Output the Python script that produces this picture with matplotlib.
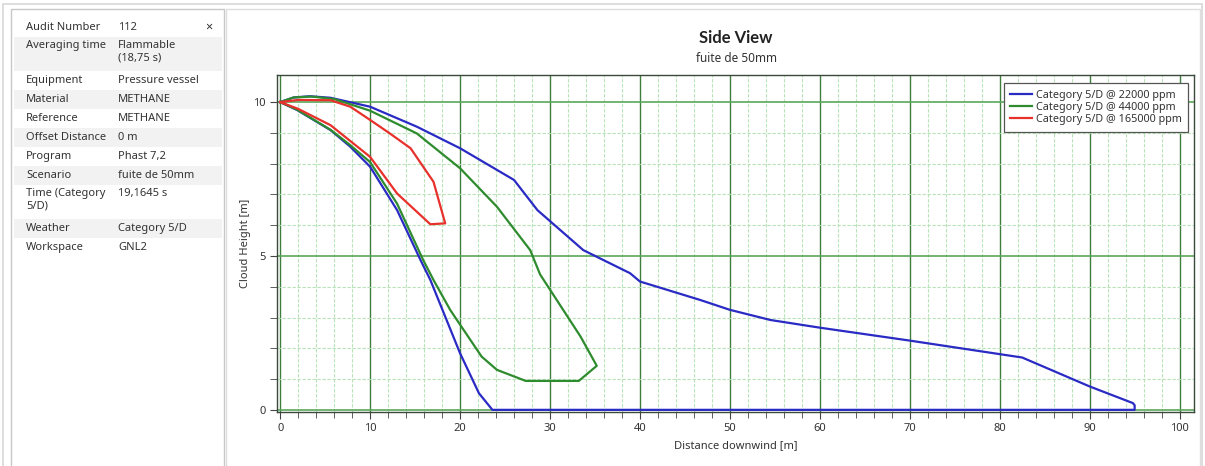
"""Side View dispersion plot (Phast style) with the audit info panel on the left."""
import numpy as np
import matplotlib
matplotlib.use("Agg")
import matplotlib.pyplot as plt
from matplotlib.patches import Rectangle
from matplotlib.ticker import MultipleLocator

plt.rcParams["font.family"] = ["Noto Sans", "DejaVu Sans"]

# ---- data ----
blue_x = [0, 1.5, 3.3, 5.6, 10, 15.2, 20, 26, 28.6, 33.7, 38.9, 40, 46.7, 50, 54.5, 60, 70, 80, 82.5,
          90, 94.8, 95, 95, 23.6, 22.1, 20, 16.7, 15.6, 13, 10, 7.8, 5.6, 1.9, 0]
blue_y = [10, 10.15, 10.19, 10.14, 9.85, 9.2, 8.5, 7.47, 6.49, 5.19, 4.44, 4.17, 3.57, 3.25, 2.92, 2.67, 2.25, 1.81, 1.70,
          0.76, 0.22, 0.15, 0, 0, 0.54, 1.84, 4.22, 4.87, 6.49, 7.9, 8.55, 9.09, 9.74, 10]
green_x = [0, 1.5, 3.5, 6, 10, 15.2, 20, 24.1, 27.8, 28.9, 33.4, 35.2, 33.2, 27.3, 24.1, 22.4, 20, 18.9,
           17.05, 15.9, 13, 10, 7.8, 5.6, 1.9, 0]
green_y = [10, 10.15, 10.18, 10.1, 9.72, 8.98, 7.85, 6.6, 5.19, 4.4, 2.38, 1.43, 0.94, 0.94, 1.3, 1.73, 2.77, 3.25,
           4.22, 4.87, 6.7, 8.05, 8.6, 9.1, 9.75, 10]
red_x = [0, 2, 5.6, 7.8, 10, 12.2, 14.5, 17.05, 18.35, 16.7, 13, 10, 5.6, 2, 0]
red_y = [10, 10.07, 10.06, 9.85, 9.42, 8.98, 8.5, 7.41, 6.06, 6.03, 7.03, 8.22, 9.25, 9.78, 10]
series_labels = ["Category 5/D @ 22000 ppm", "Category 5/D @ 44000 ppm", "Category 5/D @ 165000 ppm"]

info_keys = ["Audit Number", "Averaging time", "Equipment", "Material", "Reference", "Offset Distance",
             "Program", "Scenario", "Time (Category\n5/D)", "Weather", "Workspace"]
info_vals = ["112", "Flammable\n(18,75 s)", "Pressure vessel", "METHANE", "METHANE", "0 m",
             "Phast 7,2", "fuite de 50mm", "19,1645 s", "Category 5/D", "GNL2"]

BLUE, GREEN, RED = "#2a2ac4", "#2e8b2e", "#e8302c"
W, H = 1205, 466

fig = plt.figure(figsize=(W / 100, H / 100), dpi=100)

# ---- background panels (pixel coordinates) ----
bg = fig.add_axes([0, 0, 1, 1], zorder=0)
bg.set_xlim(0, W); bg.set_ylim(H, 0); bg.axis("off")
bg.add_patch(Rectangle((3, 4), 1199, 470, fc="white", ec="#d8d8d8", lw=1.2))
bg.add_patch(Rectangle((11, 9), 213, 470, fc="white", ec="#c8c8c8", lw=1))
bg.add_patch(Rectangle((226, 9), 974, 470, fc="white", ec="#dedede", lw=1))

y = 18
for i, (k, v) in enumerate(zip(info_keys, info_vals)):
    two = "\n" in k or "\n" in v
    h = 34 if two else 19
    if i % 2 == 1:
        bg.add_patch(Rectangle((14, y), 208, h, fc="#f2f2f2", ec="none"))
    if two:
        for x0, s in ((26, k), (118, v)):
            bg.text(x0, y + 3, s, fontsize=8, color="#333333", va="top", ha="left", linespacing=1.2)
    else:
        bg.text(26, y + h / 2, k, fontsize=8, color="#333333", va="center", ha="left")
        bg.text(118, y + h / 2, v, fontsize=8, color="#333333", va="center", ha="left")
    y += h
bg.text(209, 27, "×", fontsize=9, color="#333333", ha="center", va="center", weight="bold")

# ---- chart ----
ax = fig.add_axes([277 / W, 1 - 412 / H, 917 / W, 337 / H], zorder=1)
ax.plot(blue_x, blue_y, color=BLUE, lw=1.6, label=series_labels[0], zorder=4)
ax.plot(green_x, green_y, color=GREEN, lw=1.6, label=series_labels[1], zorder=4)
ax.plot(red_x, red_y, color=RED, lw=1.6, label=series_labels[2], zorder=4)

ax.set_xlim(-0.35, 101.6)
ax.set_ylim(-0.07, 10.88)
ax.xaxis.set_major_locator(MultipleLocator(10))
ax.xaxis.set_minor_locator(MultipleLocator(2))
ax.yaxis.set_major_locator(MultipleLocator(5))
ax.yaxis.set_minor_locator(MultipleLocator(1))
ax.grid(which="minor", color="#b8e2b8", lw=0.8, ls=(0, (3, 1.5)), zorder=1)
ax.grid(which="major", axis="x", color="#3d7d3d", lw=1.0, zorder=2)
ax.grid(which="major", axis="y", color="#5aa85a", lw=1.2, zorder=2)
ax.set_axisbelow(True)
for s in ax.spines.values():
    s.set_color("#3a4a3a"); s.set_linewidth(1)
ax.tick_params(which="both", direction="out", color="#444444", labelsize=8, labelcolor="#333333")
ax.tick_params(which="major", length=5, pad=3)
ax.tick_params(which="minor", length=4)
ax.tick_params(axis="y", which="minor", length=5)

ax.set_xlabel("Distance downwind [m]", fontsize=8, color="#333333", labelpad=4)
ax.set_ylabel("Cloud Height [m]", fontsize=8, color="#333333", labelpad=2)

fig.text(736 / W, 1 - 38 / H, "Side View", fontsize=12, weight="bold", ha="center", va="center",
         color="#222222", family=["Lato", "DejaVu Sans"])
fig.text(736 / W, 1 - 58 / H, "fuite de 50mm", fontsize=8.5, ha="center", va="center", color="#333333")

leg = ax.legend(loc="upper right", bbox_to_anchor=(0.9935, 0.976), fontsize=7.8, frameon=True, fancybox=False,
                handlelength=2.0, handletextpad=0.35, borderpad=0.6, borderaxespad=0, labelspacing=0.12,
                framealpha=1)
leg.get_frame().set_edgecolor("#555555")
leg.get_frame().set_linewidth(0.9)
for t in leg.get_texts():
    t.set_color("#333333")

fig.savefig("out.png", dpi=100)
